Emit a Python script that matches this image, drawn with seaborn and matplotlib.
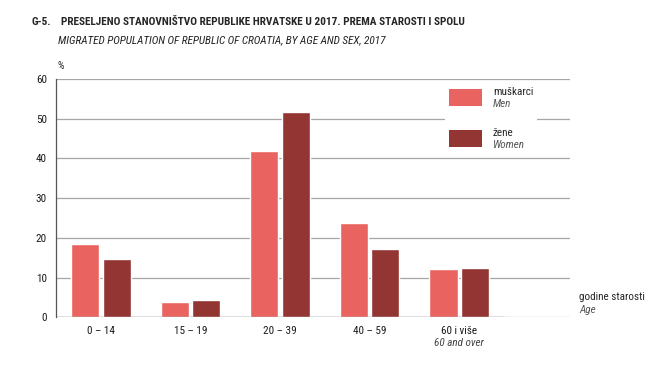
import matplotlib
matplotlib.use("Agg")
import matplotlib.pyplot as plt
import matplotlib.transforms as mtransforms
from matplotlib.patches import Patch, Rectangle
from matplotlib.legend_handler import HandlerPatch
from matplotlib import font_manager
import seaborn as sns
import pandas as pd

categories = ["0 – 14", "15 – 19", "20 – 39", "40 – 59", "60 i više"]
men = [18.4, 3.9, 41.9, 23.8, 12.2]
women = [14.6, 4.3, 51.6, 17.2, 12.4]
y_ticks = [0, 10, 20, 30, 40, 50, 60]

men_color = "#E96461"
women_color = "#933633"

available = {f.name for f in font_manager.fontManager.ttflist}
main_font = next((f for f in ["Roboto Condensed", "Archivo Narrow", "Asap Condensed",
                              "Barlow Condensed", "Liberation Sans Narrow", "Liberation Sans"]
                  if f in available), "DejaVu Sans")

sns.set_theme(style="white")
FONT = [main_font, "DejaVu Sans"]
plt.rcParams["font.family"] = FONT

df = pd.DataFrame({
    "age": categories * 2,
    "value": men + women,
    "sex": ["muškarci"] * len(categories) + ["žene"] * len(categories),
})

fig = plt.figure(figsize=(6.68, 3.78), dpi=100)
ax = fig.add_axes([0.0834, 0.1606, 0.7700, 0.6304])

sns.barplot(data=df, x="age", y="value", hue="sex", order=categories,
            palette=[men_color, women_color], width=0.70, gap=0.1,
            ax=ax, legend=False, saturation=1)

ax.set_ylim(0, 60)
ax.set_xlim(-0.506, 5.24)
ax.set_yticks(y_ticks)
ax.set_xlabel("")
ax.set_ylabel("")
ax.yaxis.grid(True, color="#a6a6a6", linewidth=0.9)
ax.set_axisbelow(True)
for s in ["top", "right", "bottom"]:
    ax.spines[s].set_visible(False)
ax.spines["left"].set_color("#555555")
ax.spines["left"].set_linewidth(0.9)
ax.axhline(0, xmin=0, xmax=(4.5 + 0.506) / (5.24 + 0.506), color="#555555", linewidth=0.9, zorder=3)
ax.tick_params(axis="both", length=0, labelsize=8, colors="#1a1a1a")
ax.tick_params(axis="y", pad=6.3)
ax.tick_params(axis="x", pad=6.5)

trans = mtransforms.blended_transform_factory(ax.transData, ax.transAxes)
ax.text(4, -0.108, "60 and over", transform=trans, ha="center", va="center",
        fontsize=8, style="italic", color="#444444")


# legend: patch spans the two text lines (label + italic English name)
def tall_patch(legend, orig_handle, xdescent, ydescent, width, height, fontsize):
    h = 12.0
    top = -ydescent + height / 2 + 1.4
    return Rectangle((-xdescent, top - h), width, h)


handles = [Patch(facecolor=men_color, edgecolor="none"),
           Patch(facecolor=women_color, edgecolor="none")]
leg = ax.legend(handles, ["muškarci", "žene"], loc="upper left",
                bbox_to_anchor=(445 / 668, 1 - 82 / 378), bbox_transform=fig.transFigure,
                fontsize=8, frameon=True, facecolor="white", edgecolor="none",
                framealpha=1, borderpad=0.35, borderaxespad=0, handlelength=2.95,
                handleheight=1.0, handletextpad=1.0, labelspacing=2.75, fancybox=False,
                handler_map={Patch: HandlerPatch(patch_func=tall_patch)})
for t, sub in zip(leg.get_texts(), ["Men", "Women"]):
    ax.annotate(sub, xy=(0, 0), xycoords=t, xytext=(0, -1.8), textcoords="offset points",
                ha="left", va="top", fontsize=8, style="italic", color="#555555",
                annotation_clip=False, zorder=10)

# titles
g5 = fig.text(32 / 668, 1 - 22 / 378, "G-5.", fontsize=9, fontweight="bold", va="center", ha="left")
title = fig.text(61 / 668, 1 - 22 / 378,
                 "PRESELJENO STANOVNIŠTVO REPUBLIKE HRVATSKE U 2017. PREMA STAROSTI I SPOLU",
                 fontsize=9, fontweight="bold", va="center", ha="left")
subtitle = fig.text(58 / 668, 1 - 40 / 378,
                    "MIGRATED POPULATION OF REPUBLIC OF CROATIA, BY AGE AND SEX, 2017",
                    fontsize=9, style="italic", va="center", ha="left", color="#222222")
fig.text(57 / 668, 1 - 66 / 378, "%", fontsize=7.5, va="center", ha="left")
fig.text(579 / 668, 1 - 297 / 378, "godine starosti", fontsize=8, va="center", ha="left")
fig.text(579 / 668, 1 - 310 / 378, "Age", fontsize=8, style="italic", va="center", ha="left", color="#555555")

# fit title widths to the reference layout
fig.canvas.draw()
renderer = fig.canvas.get_renderer()
for txt, target in [(title, 406), (subtitle, 331)]:
    w = txt.get_window_extent(renderer).width
    txt.set_fontsize(txt.get_fontsize() * target / w)
g5.set_fontsize(title.get_fontsize())

fig.savefig("out.png", dpi=100)
